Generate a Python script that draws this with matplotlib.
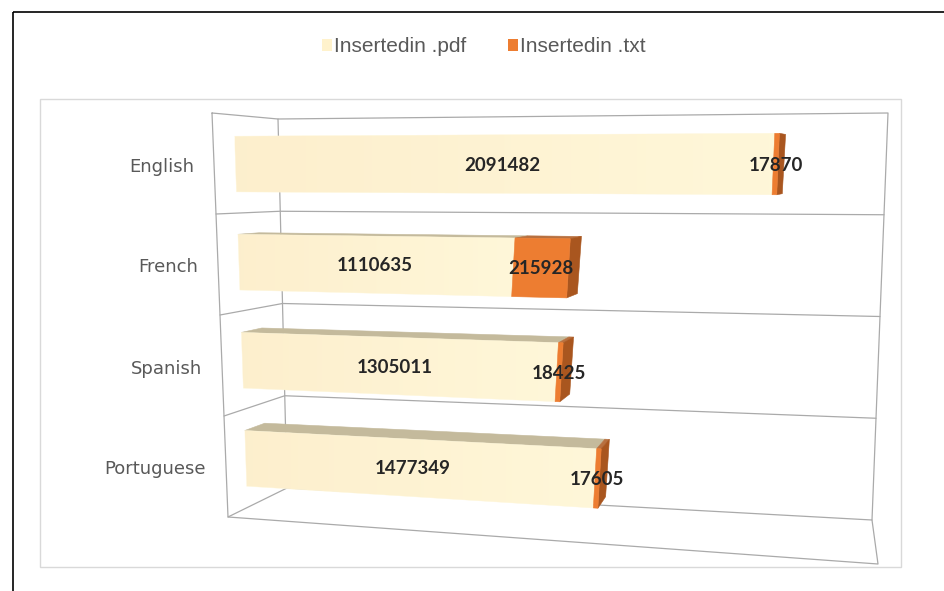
import numpy as np
import matplotlib
matplotlib.use("Agg")
import matplotlib.pyplot as plt
from matplotlib.patches import Polygon, Rectangle, Patch

# ---- data -------------------------------------------------------------
categories = ["English", "French", "Spanish", "Portuguese"]
inserted_pdf = [2091482, 1110635, 1305011, 1477349]
inserted_txt = [17870, 215928, 18425, 17605]
series_names = ["Insertedin .pdf", "Insertedin .txt"]
value_max = 2500000

# ---- 3-D box geometry (canvas pixels) -----------------------------------
FIG_W, FIG_H = 944, 591
# corners ordered (u0,w0), (u1,w0), (u0,w1), (u1,w1)
FRONT = np.array([[228, 517], [878, 564], [212, 113], [877, 107]], float)
BACK = np.array([[287, 488], [872, 520], [278, 119], [888, 113]], float)
WARP_BOTTOM, WARP_TOP = 1.19, 0.99      # foreshortening along the value axis
BAR_FRONT, BAR_BACK = 0.33, 0.66        # depth slab occupied by the bars
BAR_HALF = 0.071                        # half bar thickness (fraction of category axis)

PDF_FRONT = [(0.992, 0.937, 0.805), (1.0, 0.969, 0.850)]
PDF_TOP = "#c4ba9c"
PDF_BOTTOM = "#e6dbbd"
TXT_FRONT = "#ed7d31"
TXT_SIDE = "#a9561f"
TXT_TOP = "#b8703f"
WALL = "#aaaaaa"


def warp(u, w):
    r = WARP_BOTTOM + (WARP_TOP - WARP_BOTTOM) * w
    return u / (u + r * (1.0 - u))


def plane(corners, u, w):
    p00, p10, p01, p11 = corners
    return ((1 - u) * (1 - w) * p00 + u * (1 - w) * p10
            + (1 - u) * w * p01 + u * w * p11)


def project(value, w, d):
    u = warp(value / value_max, w)
    f = plane(FRONT, u, w)
    b = plane(BACK, u, w)
    return f + d * (b - f)


fig = plt.figure(figsize=(FIG_W / 100, FIG_H / 100), dpi=100)
ax = fig.add_axes([0, 0, 1, 1])
ax.axis("off")

# chart and plot-area borders
ax.add_patch(Rectangle((13, 12), 960, 600, fill=False, ec="black", lw=1.2, zorder=0))
ax.add_patch(Rectangle((40, 99), 861, 468, fill=False, ec="#d9d9d9", lw=1.0, zorder=0))


def line(points, **kw):
    pts = np.array(points)
    ax.plot(pts[:, 0], pts[:, 1], color=WALL, lw=0.9, zorder=1,
            solid_capstyle="round", **kw)


# walls and floor
A = project(0, 1, 0); B = project(0, 1, 1); C = project(value_max, 1, 1)
E = project(0, 0, 0); F = project(0, 0, 1); G = project(value_max, 0, 1)
Hc = project(value_max, 0, 0)
line([A, B, F, E, A])
line([B, C, G, F])
line([E, Hc, G])
n = len(categories)
for k in range(1, n):
    w = k / n
    line([project(0, w, 0), project(0, w, 1), project(value_max, w, 1)])


def face(pts, color, z):
    ax.add_patch(Polygon(pts, closed=True, fc=color, ec=color, lw=0.4, zorder=z))


def gradient_face(pts, c0, c1, z):
    pts = np.array(pts)
    clip = Polygon(pts, closed=True, fc="none", ec="none", zorder=z)
    ax.add_patch(clip)
    xmin, ymin = pts.min(0)
    xmax, ymax = pts.max(0)
    g = np.linspace(0, 1, 256)[None, :, None]
    img = (1 - g) * np.array(c0)[None, None, :] + g * np.array(c1)[None, None, :]
    im = ax.imshow(img, extent=(xmin, xmax, ymax, ymin), aspect="auto",
                   interpolation="bilinear", zorder=z)
    im.set_clip_path(clip)
    ax.add_patch(Polygon(pts, closed=True, fc="none", ec=c1, lw=0.3, zorder=z))


df, db = BAR_FRONT, BAR_BACK
for i, cat in enumerate(categories):
    wc = 1 - (i + 0.5) / n
    wt, wb = wc + BAR_HALF, wc - BAR_HALF
    z = 2 + i * 0.1
    segments = [(0, inserted_pdf[i], "pdf"),
                (inserted_pdf[i], inserted_pdf[i] + inserted_txt[i], "txt")]
    for v0, v1, kind in segments:
        top = [project(v0, wt, df), project(v1, wt, df), project(v1, wt, db), project(v0, wt, db)]
        bot = [project(v0, wb, df), project(v1, wb, df), project(v1, wb, db), project(v0, wb, db)]
        front = [project(v0, wb, df), project(v1, wb, df), project(v1, wt, df), project(v0, wt, df)]
        if top[3][1] < top[0][1]:
            face(top, PDF_TOP if kind == "pdf" else TXT_TOP, z)
        if bot[3][1] > bot[0][1]:
            face(bot, PDF_BOTTOM if kind == "pdf" else TXT_SIDE, z)
        if kind == "txt":
            side = [project(v1, wb, df), project(v1, wt, df), project(v1, wt, db), project(v1, wb, db)]
            if side[2][0] > side[1][0]:
                face(side, TXT_SIDE, z + 0.01)
            face(front, TXT_FRONT, z + 0.02)
        else:
            gradient_face(front, PDF_FRONT[0], PDF_FRONT[1], z + 0.02)

    # value labels at the centre of each segment's front face
    for v0, v1 in [(0, inserted_pdf[i]),
                   (inserted_pdf[i], inserted_pdf[i] + inserted_txt[i])]:
        x, y = project((v0 + v1) / 2, wc, df)
        ax.text(x, y + 1, f"{v1 - v0}", ha="center", va="center",
                fontsize=13.5, fontweight="bold", family=["Lato", "DejaVu Sans"],
                color="#262626", zorder=10)

    # category label
    x, y = project(0, wc, 0)
    ax.text(x - 20, y + 3, cat, ha="right", va="center", fontsize=13,
            family=["DejaVu Sans"], color="#595959", zorder=10)

handles = [Patch(fc="#fff2cc", ec="none"), Patch(fc=TXT_FRONT, ec="none")]
fig.legend(handles, series_names, loc="center", bbox_to_anchor=(484 / FIG_W, 1 - 47 / FIG_H),
           ncol=2, frameon=False, handlelength=0.47, handleheight=0.47,
           handletextpad=0.1, columnspacing=2.0,
           prop={"family": ["Liberation Sans", "DejaVu Sans"], "size": 15},
           labelcolor="#595959")

ax.set_xlim(0, FIG_W)
ax.set_ylim(FIG_H, 0)
fig.savefig("out.png", dpi=100)
